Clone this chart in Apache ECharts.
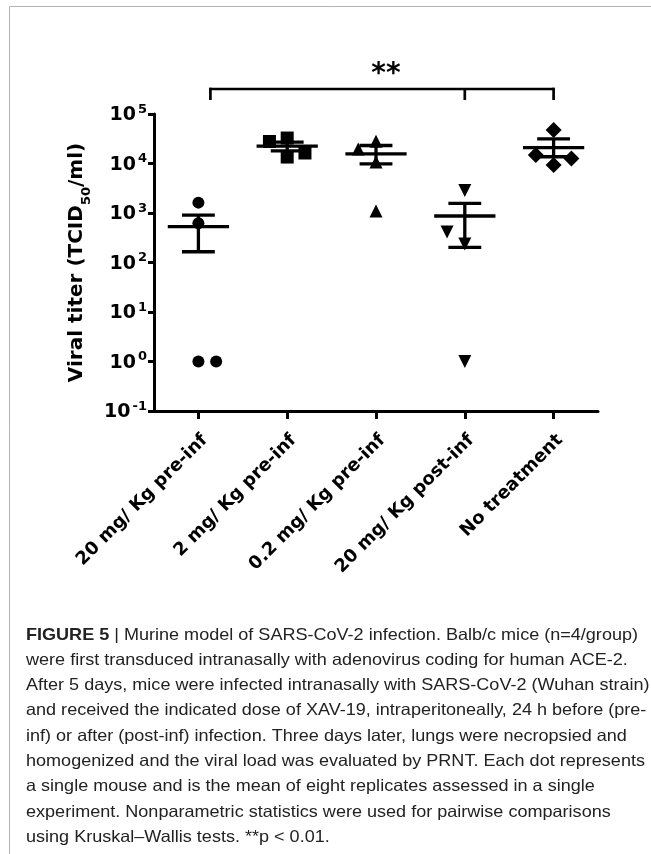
<!DOCTYPE html>
<html><head><meta charset="utf-8">
<script src="https://cdn.jsdelivr.net/npm/echarts@6/dist/echarts.min.js"></script>
<style>html,body{margin:0;padding:0;background:#fff}#c{width:651px;height:854px}</style>
</head><body><div id="c"></div>
<script>
// ---------- data ----------
const categories = ['20 mg/ Kg pre-inf', '2 mg/ Kg pre-inf', '0.2 mg/ Kg pre-inf', '20 mg/ Kg post-inf', 'No treatment'];
const yTickExponents = [-1, 0, 1, 2, 3, 4, 5];
const g1Values = [1620, 620, 1, 1];
const g1Slots = [0, 0, 0, 1];
const g2Values = [27800, 32700, 13500, 16300];
const g2Slots = [-1, 0, 0, 1];
const g3Values = [28000, 19600, 10700, 1100];
const g3Slots = [0, -1, 0, 0];
const g4Values = [2850, 413, 237, 1];
const g4Slots = [0, -1, 0, 0];
const g5Values = [47500, 14900, 9300, 12600];
const g5Slots = [0, -1, 0, 1];
const meanValues = [530, 22500, 15600, 870, 21000];
const semLow = [165, 18000, 9800, 203, 13700];
const semHigh = [910, 27000, 23100, 1570, 31300];
const bracketGroups = [0, 3, 4];
const significance = '**';
const yAxisTitle = 'Viral titer (TCID{sub|50}/ml)';
const captionLines = [
  '{b|FIGURE 5} | Murine model of SARS-CoV-2 infection. Balb/c mice (n=4/group)',
  'were first transduced intranasally with adenovirus coding for human ACE-2.',
  'After 5 days, mice were infected intranasally with SARS-CoV-2 (Wuhan strain)',
  'and received the indicated dose of XAV-19, intraperitoneally, 24 h before (pre-',
  'inf) or after (post-inf) infection. Three days later, lungs were necropsied and',
  'homogenized and the viral load was evaluated by PRNT. Each dot represents',
  'a single mouse and is the mean of eight replicates assessed in a single',
  'experiment. Nonparametric statistics were used for pairwise comparisons',
  'using Kruskal\u2013Wallis tests. **p < 0.01.'
];

// ---------- styling ----------
const FONT = 'DejaVu Sans';
const CAP_FONT = '"Liberation Sans", Arial, sans-serif';
const CAP_SIZE = 16.5;
const groupValues = [g1Values, g2Values, g3Values, g4Values, g5Values];
const groupSlots = [g1Slots, g2Slots, g3Slots, g4Slots, g5Slots];
const symbols = [
  {symbol: 'circle', size: 12, rot: 0},
  {symbol: 'rect', size: 13, rot: 0},
  {symbol: 'triangle', size: 13, rot: 0},
  {symbol: 'triangle', size: 13, rot: 180},
  {symbol: 'diamond', size: 16, rot: 0}
];
const SLOT_STEP = 0.2;

const chart = echarts.init(document.getElementById('c'), null, {renderer: 'canvas'});

const scatterSeries = groupValues.map((vals, gi) => ({
  type: 'scatter',
  xAxisIndex: 0, yAxisIndex: 0,
  symbol: symbols[gi].symbol,
  symbolSize: symbols[gi].size,
  symbolRotate: symbols[gi].rot,
  itemStyle: {color: '#000', opacity: 1},
  z: 3,
  silent: true,
  data: vals.map((v, k) => [gi + groupSlots[gi][k] * SLOT_STEP, v])
}));

const errorSeries = {
  type: 'custom',
  xAxisIndex: 0, yAxisIndex: 0,
  z: 2, silent: true,
  data: meanValues.map((m, i) => [i, m, semLow[i], semHigh[i]]),
  encode: {x: 0, y: [1, 2, 3]},
  renderItem: function (params, api) {
    const i = api.value(0);
    const pm = api.coord([i, api.value(1)]);
    const pl = api.coord([i, api.value(2)]);
    const ph = api.coord([i, api.value(3)]);
    const unit = api.coord([1, api.value(1)])[0] - api.coord([0, api.value(1)])[0];
    const mw = 0.345 * unit, cw = 0.185 * unit;
    const st = {stroke: '#000', lineWidth: 3.3, lineCap: 'butt'};
    return {type: 'group', children: [
      {type: 'line', shape: {x1: pm[0] - mw, y1: pm[1], x2: pm[0] + mw, y2: pm[1]}, style: st},
      {type: 'line', shape: {x1: pl[0], y1: pl[1], x2: ph[0], y2: ph[1]}, style: st},
      {type: 'line', shape: {x1: pl[0] - cw, y1: pl[1], x2: pl[0] + cw, y2: pl[1]}, style: st},
      {type: 'line', shape: {x1: ph[0] - cw, y1: ph[1], x2: ph[0] + cw, y2: ph[1]}, style: st}
    ]};
  }
};

chart.setOption({
  animation: false,
  backgroundColor: '#fff',
  grid: {left: 154, right: 53, top: 114, bottom: 443, containLabel: false},
  xAxis: [
    {type: 'value', min: -0.5, max: 4.5, show: false, position: 'bottom', axisLine: {onZero: false}},
    {
      type: 'category', data: categories, position: 'bottom',
      axisLine: {show: true, onZero: false, lineStyle: {color: '#000', width: 3}},
      axisTick: {show: true, alignWithLabel: true, length: 8, lineStyle: {color: '#000', width: 3}},
      axisLabel: {
        rotate: 45, interval: 0, margin: 20, verticalAlign: 'top', align: 'right',
        fontFamily: FONT, fontWeight: 'bold', fontSize: 18, color: '#000'
      },
      splitLine: {show: false}
    }
  ],
  yAxis: {
    type: 'log', logBase: 10, min: 0.1, max: 100000,
    axisLine: {show: true, onZero: false, lineStyle: {color: '#000', width: 3}},
    axisTick: {show: true, length: 6, lineStyle: {color: '#000', width: 3}},
    minorTick: {show: false},
    splitLine: {show: false},
    axisLabel: {
      margin: 7,
      formatter: function (v) {
        const e = Math.round(Math.log10(v));
        return '{b|10}{s|' + e + '}';
      },
      rich: {
        b: {fontFamily: FONT, fontWeight: 'bold', fontSize: 19, color: '#000', lineHeight: 22, verticalAlign: 'bottom'},
        s: {fontFamily: FONT, fontWeight: 'bold', fontSize: 13, color: '#000', lineHeight: 13, verticalAlign: 'top', padding: [0, 0, 0, 2]}
      }
    },
    name: yAxisTitle,
    nameLocation: 'middle',
    nameGap: 65,
    nameTextStyle: {
      fontFamily: FONT, fontWeight: 'bold', fontSize: 20, color: '#000',
      rich: {
        sub: {fontFamily: FONT, fontWeight: 'bold', fontSize: 13, color: '#000', verticalAlign: 'bottom', lineHeight: 13, padding: [0, 0, -6, 0]}
      }
    }
  },
  series: [errorSeries].concat(scatterSeries)
});

// ---------- overlay graphics (bracket, significance, caption, frame) ----------
const px = v => chart.convertToPixel({xAxisIndex: 0}, v);
const yTop = chart.convertToPixel({yAxisIndex: 0}, 100000);
const bx = bracketGroups.map(g => px(g));
bx[0] += 12; // bracket starts slightly right of first group's centre
const by = yTop - 25, byEnd = yTop - 14;
const bStyle = {stroke: '#000', lineWidth: 2.7};

// caption horizontal scale so the first line spans the same width as the original
const cv = document.createElement('canvas').getContext('2d');
cv.font = 'bold ' + CAP_SIZE + 'px ' + CAP_FONT;
let w = cv.measureText('FIGURE 5').width;
cv.font = CAP_SIZE + 'px ' + CAP_FONT;
w += cv.measureText(captionLines[0].replace('{b|FIGURE 5}', '')).width;
const capScale = 612 / w;

const graphics = [
  {type: 'line', shape: {x1: 9.5, y1: 6.5, x2: 651, y2: 6.5}, style: {stroke: '#b4b4b4', lineWidth: 1}, silent: true},
  {type: 'line', shape: {x1: 9.5, y1: 6.5, x2: 9.5, y2: 854}, style: {stroke: '#b4b4b4', lineWidth: 1}, silent: true},
  {type: 'line', shape: {x1: bx[0], y1: by, x2: bx[2], y2: by}, style: bStyle, silent: true},
  {type: 'line', shape: {x1: bx[0], y1: by - 1.35, x2: bx[0], y2: byEnd}, style: bStyle, silent: true},
  {type: 'line', shape: {x1: bx[1], y1: by, x2: bx[1], y2: byEnd}, style: bStyle, silent: true},
  {type: 'line', shape: {x1: bx[2], y1: by - 1.35, x2: bx[2], y2: byEnd}, style: bStyle, silent: true},
  {type: 'text', x: (bx[0] + bx[2]) / 2 + 4, y: by - 14, silent: true,
   style: {text: significance, fontFamily: FONT, fontWeight: 'bold', fontSize: 28, fill: '#000', align: 'center', verticalAlign: 'middle'}}
];
captionLines.forEach((line, k) => {
  graphics.push({
    type: 'text', x: 26, y: 635 + k * 25.3, scaleX: capScale, silent: true,
    style: {
      text: line, fontFamily: CAP_FONT, fontSize: CAP_SIZE, fill: '#222', align: 'left', verticalAlign: 'middle',
      rich: {b: {fontFamily: CAP_FONT, fontSize: CAP_SIZE, fontWeight: 'bold', fill: '#222'}}
    }
  });
});
chart.setOption({graphic: graphics});
</script>
</body></html>
